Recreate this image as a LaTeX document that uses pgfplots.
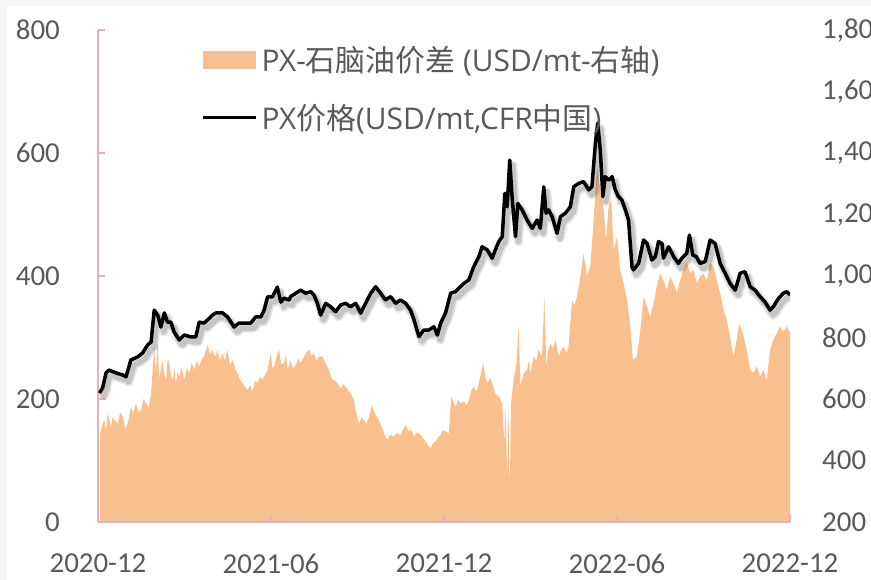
\documentclass[border=0pt]{standalone}
\usepackage{fontspec}
\setmainfont{Carlito}
\newfontfamily\cjk{Noto Sans CJK SC}
\newfontfamily\legfont{Open Sans}
\usepackage{pgfplots}
\pgfplotsset{compat=1.18}

\definecolor{spread}{RGB}{248,192,142}
\definecolor{axispink}{RGB}{228,180,180}
\definecolor{labelgray}{RGB}{89,89,89}

% PX-naphtha spread, USD/mt (left axis); x = months since 2020-12
\pgfplotstableread{
t L
0.07 144
0.15 158
0.22 166
0.28 150
0.34 177
0.45 155
0.52 172
0.56 166
0.68 160
0.77 178
0.86 171
0.95 150
1.03 160
1.14 187
1.22 176
1.32 193
1.40 178
1.49 182
1.58 200
1.66 193
1.76 186
1.84 209
1.95 285
2.00 240
2.07 291
2.12 231
2.18 248
2.24 263
2.30 240
2.36 231
2.42 266
2.47 258
2.53 238
2.59 231
2.65 250
2.70 226
2.76 244
2.82 236
2.90 252
2.99 231
3.08 250
3.16 242
3.25 258
3.34 247
3.42 262
3.51 253
3.60 266
3.68 269
3.80 288
3.90 272
3.97 280
4.06 268
4.15 280
4.22 262
4.32 274
4.40 262
4.49 280
4.58 255
4.67 263
4.76 248
4.84 242
4.92 232
5.01 226
5.10 220
5.18 215
5.28 222
5.36 212
5.45 230
5.53 226
5.62 236
5.70 231
5.80 240
5.88 247
5.99 274
6.05 250
6.11 253
6.20 270
6.28 280
6.36 256
6.45 258
6.52 272
6.57 247
6.68 263
6.76 250
6.86 255
6.95 266
7.03 258
7.12 266
7.20 274
7.32 280
7.40 270
7.49 274
7.58 262
7.66 269
7.78 269
7.90 258
8.01 247
8.07 238
8.13 231
8.22 230
8.30 226
8.42 217
8.50 224
8.59 220
8.68 214
8.76 209
8.88 198
8.96 176
9.05 160
9.14 170
9.22 166
9.31 160
9.40 171
9.50 190
9.57 179
9.66 172
9.74 166
9.83 156
9.92 144
10.03 133
10.14 142
10.26 139
10.38 145
10.49 141
10.58 150
10.67 158
10.78 147
10.86 150
10.95 139
11.07 146
11.19 141
11.28 136
11.36 131
11.45 124
11.53 120
11.62 128
11.71 131
11.80 138
11.88 141
11.97 150
12.05 147
12.17 144
12.25 204
12.32 196
12.40 187
12.48 198
12.57 193
12.69 196
12.78 190
12.86 198
12.95 214
13.03 220
13.12 212
13.21 226
13.36 258
13.43 236
13.50 226
13.60 234
13.67 226
13.78 209
13.90 204
14.02 193
14.09 128
14.14 187
14.19 74
14.24 187
14.28 52
14.33 193
14.42 236
14.50 250
14.59 318
14.65 220
14.76 242
14.88 247
14.94 262
15.00 242
15.11 269
15.20 262
15.28 280
15.40 269
15.48 366
15.55 253
15.62 280
15.69 291
15.78 282
15.86 296
15.98 269
16.06 280
16.15 285
16.24 275
16.32 285
16.44 361
16.52 352
16.61 366
16.73 399
16.84 437
16.96 399
17.07 415
17.19 491
17.31 578
17.42 540
17.54 507
17.62 459
17.71 513
17.80 524
17.88 442
18.00 464
18.11 410
18.23 388
18.35 361
18.46 318
18.55 263
18.69 269
18.81 312
18.92 366
19.04 350
19.15 334
19.27 356
19.38 383
19.50 404
19.61 393
19.73 377
19.84 399
19.96 388
20.08 372
20.19 393
20.31 410
20.42 423
20.54 404
20.65 410
20.77 388
20.88 399
21.00 404
21.12 393
21.23 421
21.34 415
21.46 393
21.58 372
21.69 345
21.81 328
21.92 301
22.04 269
22.15 296
22.24 323
22.36 307
22.48 285
22.62 247
22.73 242
22.85 253
22.96 236
23.08 247
23.19 231
23.31 280
23.42 296
23.54 307
23.65 318
23.77 309
23.89 318
24.00 307
}\spreadtable

% PX price, USD/mt CFR China (right axis)
\pgfplotstableread{
t P
0.05 619
0.16 636
0.28 685
0.38 694
0.62 685
0.86 678
0.97 672
1.14 727
1.38 737
1.55 750
1.72 776
1.84 785
1.95 889
2.07 873
2.18 834
2.30 880
2.41 850
2.53 850
2.64 818
2.82 792
2.99 808
3.22 802
3.39 802
3.51 850
3.68 847
3.80 857
3.97 873
4.09 880
4.32 880
4.49 867
4.61 850
4.72 834
4.89 847
5.07 847
5.30 847
5.47 867
5.65 867
5.76 889
5.88 932
6.05 932
6.22 964
6.34 915
6.45 928
6.63 922
6.68 933
6.86 944
7.03 954
7.20 944
7.38 949
7.49 938
7.61 911
7.72 873
7.90 911
8.07 900
8.24 884
8.42 906
8.59 911
8.76 900
8.94 911
9.11 879
9.28 911
9.46 944
9.63 965
9.80 944
9.97 922
10.15 933
10.32 911
10.49 922
10.67 911
10.84 889
10.96 857
11.13 803
11.30 824
11.47 824
11.65 835
11.77 808
11.88 846
12.05 879
12.23 944
12.40 949
12.57 965
12.69 976
12.86 987
13.03 1030
13.21 1063
13.32 1095
13.50 1085
13.67 1058
13.78 1085
13.90 1112
14.02 1128
14.11 1269
14.19 1225
14.28 1377
14.36 1258
14.48 1128
14.56 1236
14.71 1215
14.88 1182
15.06 1155
15.23 1182
15.34 1155
15.46 1290
15.54 1204
15.63 1215
15.75 1193
15.92 1139
16.04 1193
16.21 1204
16.38 1225
16.50 1290
16.67 1301
16.84 1307
17.02 1280
17.13 1290
17.25 1432
17.33 1497
17.42 1410
17.51 1258
17.59 1323
17.71 1312
17.83 1323
17.94 1280
18.05 1258
18.17 1247
18.29 1215
18.40 1182
18.52 1030
18.57 1020
18.75 1041
18.92 1117
19.04 1106
19.21 1052
19.33 1063
19.44 1112
19.56 1106
19.61 1058
19.79 1095
19.96 1063
20.13 1041
20.25 1058
20.42 1074
20.51 1133
20.63 1068
20.75 1063
20.88 1041
21.06 1047
21.23 1117
21.40 1106
21.58 1041
21.75 1009
21.92 976
22.10 954
22.27 1009
22.44 1014
22.62 965
22.79 954
22.96 933
23.13 916
23.31 889
23.42 900
23.60 927
23.77 944
23.89 949
24.00 938
}\pricetable

\begin{document}
\begin{tikzpicture}
  % faint frame strips of the original screenshot
  \fill[black!4] (-98bp,-58bp) rectangle (-91bp,522bp);
  \fill[black!4] (-98bp,516bp) rectangle (773bp,522bp);

  \pgfplotsset{
    every tick label/.append style={font=\fontsize{29}{34}\selectfont, text=labelgray, inner sep=0pt},
  }

  \begin{axis}[
      at={(0,0)}, anchor=south west,
      scale only axis, width=692bp, height=492bp,
      xmin=0, xmax=24, ymin=0, ymax=800,
      axis x line*=bottom, axis y line*=left,
      axis line style={axispink, line width=2.6bp, -},
      xtick={0,6,12,18,24},
      xticklabels={2020-12,2021-06,2021-12,2022-06,2022-12},
      ytick={0,200,...,800},
      tick style={axispink, line width=1.8bp},
      tick align=inside, major tick length=7bp,
      xticklabel style={anchor=north},
      xticklabel shift=32bp,
      yticklabel style={anchor=east},
      yticklabel shift=38bp,
      /pgf/number format/assume math mode=true,
      axis on top,
    ]
    \addplot[fill=spread, draw=none] table[x=t, y=L] {\spreadtable} \closedcycle;
  \end{axis}

  \begin{axis}[
      at={(0,0)}, anchor=south west,
      scale only axis, width=692bp, height=492bp,
      xmin=0, xmax=24, ymin=200, ymax=1800,
      axis x line=none, axis y line*=right,
      y axis line style={draw=none},
      ytick={200,400,...,1800},
      major tick length=0pt,
      yticklabel style={anchor=west},
      yticklabel shift=32bp,
      /pgf/number format/assume math mode=true,
      /pgf/number format/1000 sep={,},
      legend style={draw=none, fill=none, at={(0.1495,0.974)}, anchor=north west,
        font=\legfont\fontsize{30}{35}\selectfont, text=labelgray,
        row sep=24bp, inner sep=0pt, nodes={inner sep=3.5bp}},
      legend cell align=left,
    ]
    \addlegendimage{legend image code/.code={\fill[spread] (0bp,-8.5bp) rectangle (52bp,8.5bp);}}
    \addlegendentry{PX-{\cjk 石脑油价差} (USD/mt-{\cjk 右轴})}
    \addplot[forget plot, draw=black, opacity=0.10, line width=9bp, xshift=3bp, yshift=-5bp, line join=round]
      table[x=t, y=P] {\pricetable};
    \addplot[forget plot, draw=black, opacity=0.14, line width=5.5bp, xshift=3bp, yshift=-5bp, line join=round]
      table[x=t, y=P] {\pricetable};
    \addplot[black, line width=3.5bp, line join=round,
      legend image code/.code={\draw[black, line width=3.5bp] (0bp,0bp) -- (53bp,0bp);}]
      table[x=t, y=P] {\pricetable};
    \addlegendentry{PX{\cjk 价格}(USD/mt,CFR{\cjk 中国})}
  \end{axis}

  \pgfresetboundingbox
  \path[use as bounding box] (-98bp,-58bp) rectangle (773bp,522bp);
\end{tikzpicture}
\end{document}
